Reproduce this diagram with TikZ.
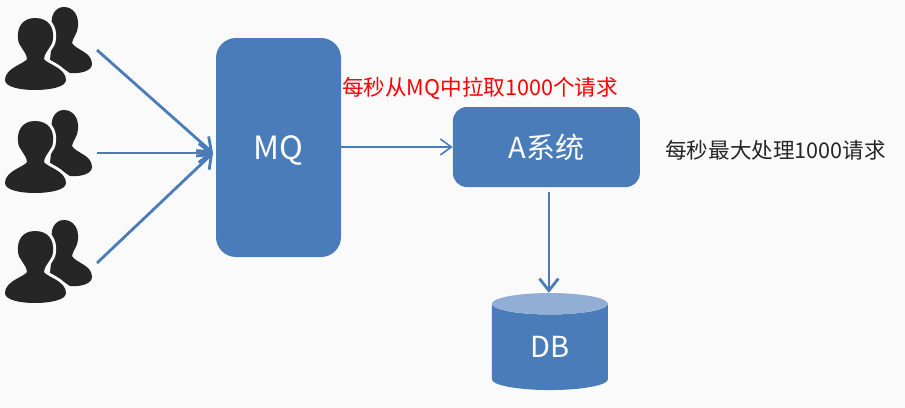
\documentclass[tikz,border=0pt]{standalone}
\usepackage{fontspec}
\setmainfont{Noto Sans CJK SC}
\usepackage{xcolor}
\usepackage{tikz}
\usetikzlibrary{calc, arrows.meta, shapes.geometric, positioning}
\definecolor{blu}{RGB}{74, 124, 185}
\definecolor{blulight}{RGB}{145, 174, 212}
\definecolor{gra}{RGB}{250, 250, 250}
\definecolor{drk}{RGB}{38, 38, 38}
\tikzset{
    boxnode/.style = {draw=none, fill=blu, rectangle, text=white, inner sep = 0em, node distance=0em, font=\fontsize{29}{34}\selectfont},
    cylnode/.style = {cylinder, shape border rotate=90, aspect=0.55, draw=none, cylinder uses custom fill,
      cylinder body fill=blu, cylinder end fill=blulight, text=white, inner sep = 0em, node distance=0em, font=\fontsize{29}{34}\selectfont},
    textnode/.style = {draw=none, fill=none, rectangle, inner sep = 0em, node distance=0em, font=\fontsize{21.6}{24}\selectfont},
    connect/.style = {blu, line width=2.8pt, -{Straight Barb[length=12pt, width=19pt, line width=2.8pt]}},
    thinconnect/.style = {blu, line width=1.6pt, -{Straight Barb[length=11pt, width=16pt, line width=1.6pt]}},
    userpic/.pic = {
      % back figure, then the front one over a wide halo
      \fill[drk] (64,7) .. controls (73,7) and (79,15) .. (78,26) .. controls (78,33) and (73,37) .. (72,43)
        .. controls (76,50) and (92,52) .. (92,64) .. controls (92,71) and (80,74) .. (70,73)
        -- (50,60) -- (53,30) .. controls (49,18) and (54,7) .. (64,7) -- cycle;
      \path[save path=\headpath] (35,18) .. controls (49,18) and (54,28) .. (53,38)
        .. controls (53,47) and (45,50) .. (44,59) .. controls (47,64) and (66,68) .. (66,80)
        .. controls (66,87) and (50,90) .. (35,90) .. controls (20,90) and (5,87) .. (5,80)
        .. controls (5,68) and (24,64) .. (27,59) .. controls (26,50) and (18,47) .. (18,38)
        .. controls (17,28) and (22,18) .. (35,18) -- cycle;
      \draw[gra, line width=6pt, use path=\headpath];
      \fill[drk, use path=\headpath];
    }
}

\begin{document}
\begin{tikzpicture}[x=1pt, y=-1pt]
\useasboundingbox[fill=gra] (0,0) rectangle (905,407);

% the three groups of users
\pic at (0,0) {userpic};
\pic at (0,103) {userpic};
\pic at (0,213) {userpic};
\coordinate (user1) at (97,50);
\coordinate (user2) at (97,153);
\coordinate (user3) at (97,263);

\node [boxnode, rounded corners=20pt, minimum width=125pt, minimum height=219pt, name=MQ, text depth=-8pt, font=\fontsize{32}{34}\selectfont] at (278.5,147.5) {MQ};
\node [boxnode, rounded corners=14pt, minimum width=187pt, minimum height=80pt, name=sysA, right=111.5pt of MQ, yshift=0.5pt] {A系统};
\node [cylnode, minimum width=116pt, minimum height=97pt, name=DB, below of=sysA, xshift=3.5pt, yshift=-200pt, text depth=-6pt] {DB};

\node [textnode, name=pull, text=red, anchor=center] at (480,88.5) {每秒从MQ中拉取1000个请求};
\node [textnode, name=limit, text=drk, right=25pt of sysA, yshift=-3.5pt] {每秒最大处理1000请求};

\coordinate (mqin) at (213,153);
\coordinate (dbin) at ($(DB.north)+(-1,0)$);
\draw [connect] (user1) -- (mqin);
\draw [connect] (user2) -- (mqin);
\draw [connect] (user3) -- (mqin);
\draw [thinconnect] (MQ.east |- sysA) -- (sysA);
\draw [connect] ($(dbin |- sysA.south)+(0,5)$) -- (dbin);
\end{tikzpicture}
\end{document}
